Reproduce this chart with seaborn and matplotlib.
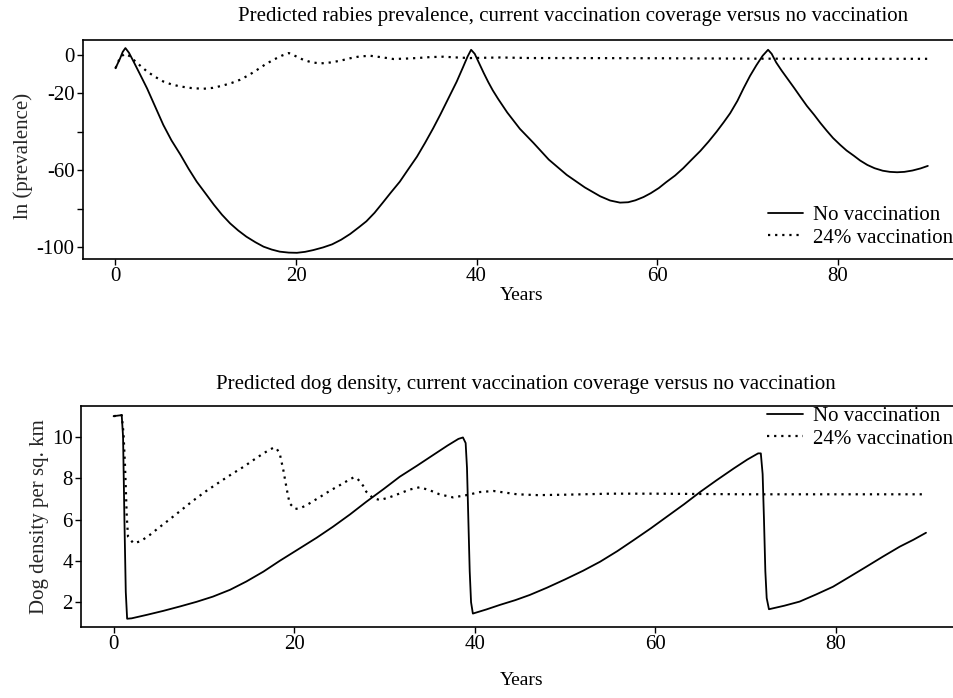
import pandas as pd
import numpy as np
import matplotlib
matplotlib.use('Agg')
import matplotlib.pyplot as plt
import seaborn as sns
from warnings import filterwarnings
filterwarnings('ignore')

## Dados: prevalencia (ln) sem vacinacao
years_prev_novacc = [0.0, 0.5, 0.8, 1.1, 1.5, 2.0, 2.7, 3.5, 4.4, 5.3, 6.2, 7.2, 8.1, 9.0, 10.0,
                     10.9, 11.8, 12.7, 13.6, 14.5, 15.5, 16.4, 17.3, 18.2, 19.2, 20.1, 21.0, 21.9,
                     23.0, 24.0, 25.0, 26.0, 27.0, 27.8, 28.7, 29.6, 30.5, 31.5, 32.4, 33.4, 34.3,
                     35.2, 36.0, 36.9, 37.8, 38.5, 39.0, 39.4, 39.8, 40.3, 40.8, 41.3, 41.8, 42.4,
                     43.4, 44.8, 46.3, 48.0, 50.0, 52.0, 53.7, 54.8, 55.9, 56.8, 57.6, 58.5, 59.3,
                     60.2, 61.0, 62.0, 62.9, 63.8, 64.8, 65.7, 66.6, 67.4, 68.1, 68.9, 69.6, 70.3,
                     71.0, 71.7, 72.3, 72.7, 73.2, 73.8, 74.4, 75.2, 75.9, 76.6, 77.4, 78.1, 78.8,
                     79.5, 80.3, 81.0, 81.8, 82.5, 83.3, 84.1, 85.0, 85.8, 86.6, 87.4, 88.3, 89.2,
                     90.0]
prev_novacc = [-7, -2, 1.5, 3.5, 1.0, -3.5, -10, -17.5, -27, -36.5, -44.5, -52, -59.3, -66, -72.3,
               -78, -83.2, -87.7, -91.4, -94.6, -97.5, -99.8, -101.3, -102.4, -102.9, -103, -102.5, -101.6,
               -100.2, -98.6, -96.2, -93.2, -89.6, -86.6, -82.2, -77, -71.7, -66, -59.8, -53, -45.8,
               -38.2, -31, -22.5, -14, -6.5, -1, 2.6, 0.5, -4.5, -9.5, -14.2, -18.5, -23,
               -30, -38.5, -45.8, -54.5, -62.5, -69, -73.6, -75.8, -76.9, -76.7, -75.7, -74, -72,
               -69.3, -66.3, -62.8, -59, -54.7, -50, -45.2, -40, -35, -30.4, -24, -17.3, -11,
               -5.5, -0.5, 2.6, 0.5, -4, -8.2, -12.1, -17.3, -22, -26.6, -31.2, -35.5, -39.5,
               -43.3, -46.9, -49.8, -52.5, -55, -57.3, -59, -60.3, -60.9, -61.1, -60.9, -60.2, -59.1,
               -57.8]

## Prevalencia (ln) com 24% de vacinacao
years_prev_vacc = [0.0, 0.5, 1.0, 1.5, 2.0, 2.7, 3.5, 4.4, 5.3, 6.2, 7.2, 8.4, 9.7, 10.8, 11.9,
                   12.9, 13.8, 14.8, 15.7, 16.6, 17.5, 18.4, 19.2, 20.0, 20.8, 21.7, 22.7, 23.8,
                   24.9, 26.0, 27.0, 28.2, 29.5, 30.8, 32.1, 33.4, 34.9, 36.3, 37.8, 39.3, 42.6,
                   46.0, 50.0, 60.0, 70.0, 80.0, 90.0]
prev_vacc = [-7, -1.5, 0.5, -0.5, -2.6, -5.5, -8.7, -11.5, -13.9, -15.4, -16.5, -17.3, -17.7, -17.2, -16,
             -14.6, -13, -10.5, -7.8, -5.0, -2.6, -0.5, 0.9, -0.8, -2.6, -3.9, -4.5, -4,
             -3.1, -1.8, -0.9, -0.5, -1.3, -2.2, -2.0, -1.7, -1.2, -1.0, -1.4, -1.7, -1.4,
             -1.7, -1.7, -1.8, -2.0, -2.1, -2.1]

## Densidade de caes sem vacinacao
years_dens_novacc = [0.0, 0.9, 1.05, 1.2, 1.35, 1.5, 2.0, 2.8, 3.7, 5.5, 7.4, 9.2, 11.0, 12.9,
                     14.7, 16.6, 18.4, 20.6, 22.5, 24.3, 26.2, 28.0, 29.9, 31.7, 33.6, 35.4, 37.0,
                     38.2, 38.7, 39.0, 39.15, 39.3, 39.45, 39.6, 39.8, 41.3, 42.8, 44.5, 46.1, 48.0,
                     50.0, 52.0, 53.9, 55.8, 57.6, 59.5, 61.3, 63.2, 65.0, 66.8, 68.7, 70.2, 71.4,
                     71.7, 71.9, 72.05, 72.2, 72.35, 72.6, 74.3, 76.0, 77.8, 79.7, 81.5, 83.4, 85.2,
                     87.1, 88.6, 90.0]
dens_novacc = [11.0, 11.05, 10.0, 6.0, 2.5, 1.2, 1.22, 1.3, 1.39, 1.58, 1.8, 2.02, 2.27, 2.6,
               3.0, 3.48, 4.0, 4.6, 5.12, 5.65, 6.25, 6.86, 7.47, 8.07, 8.6, 9.12, 9.58,
               9.9, 9.97, 9.7, 8.5, 6.0, 3.5, 2.0, 1.45, 1.65, 1.87, 2.1, 2.35, 2.7,
               3.1, 3.52, 3.96, 4.47, 5.0, 5.57, 6.14, 6.74, 7.34, 7.9, 8.47, 8.9, 9.2,
               9.2, 8.2, 6.0, 3.5, 2.2, 1.66, 1.83, 2.03, 2.37, 2.75, 3.22, 3.72, 4.2,
               4.69, 5.02, 5.36]

## Densidade de caes com 24% de vacinacao
years_dens_vacc = [0.0, 0.9, 1.1, 1.27, 1.46, 1.6, 2.2, 3.0, 4.0, 5.0, 6.1, 7.4, 8.65, 10.2, 11.8,
                   13.1, 14.4, 15.5, 16.6, 17.3, 17.8, 18.1, 18.4, 18.8, 19.2, 19.5, 20.1, 20.7,
                   21.4, 22.9, 24.0, 25.1, 26.0, 26.6, 27.0, 27.3, 27.7, 28.0, 28.7, 29.5, 30.6,
                   31.7, 32.8, 33.9, 35.0, 36.1, 37.6, 39.1, 40.6, 42.1, 43.4, 44.7, 47.0, 50.0,
                   55.0, 60.0, 70.0, 80.0, 90.0]
dens_vacc = [11.0, 11.05, 10.16, 8.55, 6.14, 5.17, 4.85, 4.95, 5.25, 5.6, 5.97, 6.42, 6.86, 7.36, 7.83,
             8.2, 8.55, 8.88, 9.2, 9.38, 9.49, 9.4, 9.2, 8.4, 7.43, 6.78, 6.51, 6.55,
             6.7, 7.1, 7.4, 7.67, 7.9, 8.04, 7.98, 7.83, 7.6, 7.34, 7.05, 6.94, 7.08,
             7.26, 7.45, 7.56, 7.42, 7.22, 7.07, 7.18, 7.33, 7.38, 7.3, 7.22, 7.18, 7.2,
             7.25, 7.25, 7.22, 7.22, 7.22]

labels = ['No vaccination', '24% vaccination']
prev_ticks = [0, -20, -40, -60, -80, -100]
prev_ticklabels = ['0', '-20', '', '-60', '', '-100']
dens_ticks = [2, 4, 6, 8, 10]
x_ticks = [0, 20, 40, 60, 80]

sns.set_style('ticks')
plt.rcParams['font.family'] = ['Liberation Serif', 'DejaVu Serif']
plt.rcParams['text.color'] = 'black'

fig = plt.figure(figsize=(9.54, 6.98), dpi=100)
ax1 = fig.add_axes([0.087, 0.629, 0.913, 0.314])
ax2 = fig.add_axes([0.085, 0.102, 0.915, 0.316])

dot_style = (0, (1, 2.2))


def draw_panel(ax, x_a, y_a, x_b, y_b):
    ## linha continua (sem vacinacao) e pontilhada (com vacinacao)
    sns.lineplot(x=x_a, y=y_a, ax=ax, color='black', linewidth=1.3,
                 estimator=None, sort=False, label=labels[0])
    sns.lineplot(x=x_b, y=y_b, ax=ax, color='black', linewidth=1.6,
                 estimator=None, sort=False, label=labels[1])
    ax.lines[1].set_linestyle(dot_style)
    ax.spines['right'].set_visible(False)
    for s in ['left', 'top', 'bottom']:
        ax.spines[s].set_linewidth(1.2)
        ax.spines[s].set_color('black')
    ax.tick_params(direction='out', length=4, width=1, labelsize=15, colors='black', pad=2)
    ax.set_xticks(x_ticks)
    ax.set_xlabel('')
    ax.set_facecolor('white')


## Painel superior - prevalencia
draw_panel(ax1, years_prev_novacc, prev_novacc, years_prev_vacc, prev_vacc)
ax1.set_xlim(-3.6, 92.9)
ax1.set_ylim(-106.2, 7.8)
ax1.set_yticks(prev_ticks)
ax1.set_yticklabels(prev_ticklabels)
ax1.set_ylabel('ln (prevalence)', fontsize=15)
ax1.yaxis.set_label_coords(-0.057, 0.47)
ax1.legend(loc='upper left', bbox_to_anchor=(0.786, 0.245), frameon=False, fontsize=15,
           handlelength=1.7, handletextpad=0.5, labelspacing=0.15, borderpad=0, borderaxespad=0)

## Painel inferior - densidade de caes
draw_panel(ax2, years_dens_novacc, dens_novacc, years_dens_vacc, dens_vacc)
ax2.set_xlim(-3.6, 93.1)
ax2.set_ylim(0.81, 11.48)
ax2.set_yticks(dens_ticks)
ax2.set_ylabel('Dog density per sq. km', fontsize=15, labelpad=2)
ax2.legend(loc='upper left', bbox_to_anchor=(0.786, 1.0), frameon=False, fontsize=15,
           handlelength=1.7, handletextpad=0.5, labelspacing=0.15, borderpad=0, borderaxespad=0)

## Titulos e rotulos do eixo x
fig.text(0.601, 0.977, 'Predicted rabies prevalence, current vaccination coverage versus no vaccination',
         ha='center', va='center', fontsize=15)
fig.text(0.551, 0.4485, 'Predicted dog density, current vaccination coverage versus no vaccination',
         ha='center', va='center', fontsize=15)
fig.text(0.547, 0.577, 'Years', ha='center', va='center', fontsize=14)
fig.text(0.547, 0.025, 'Years', ha='center', va='center', fontsize=14)

plt.savefig('out.png', dpi=100, facecolor='white')
